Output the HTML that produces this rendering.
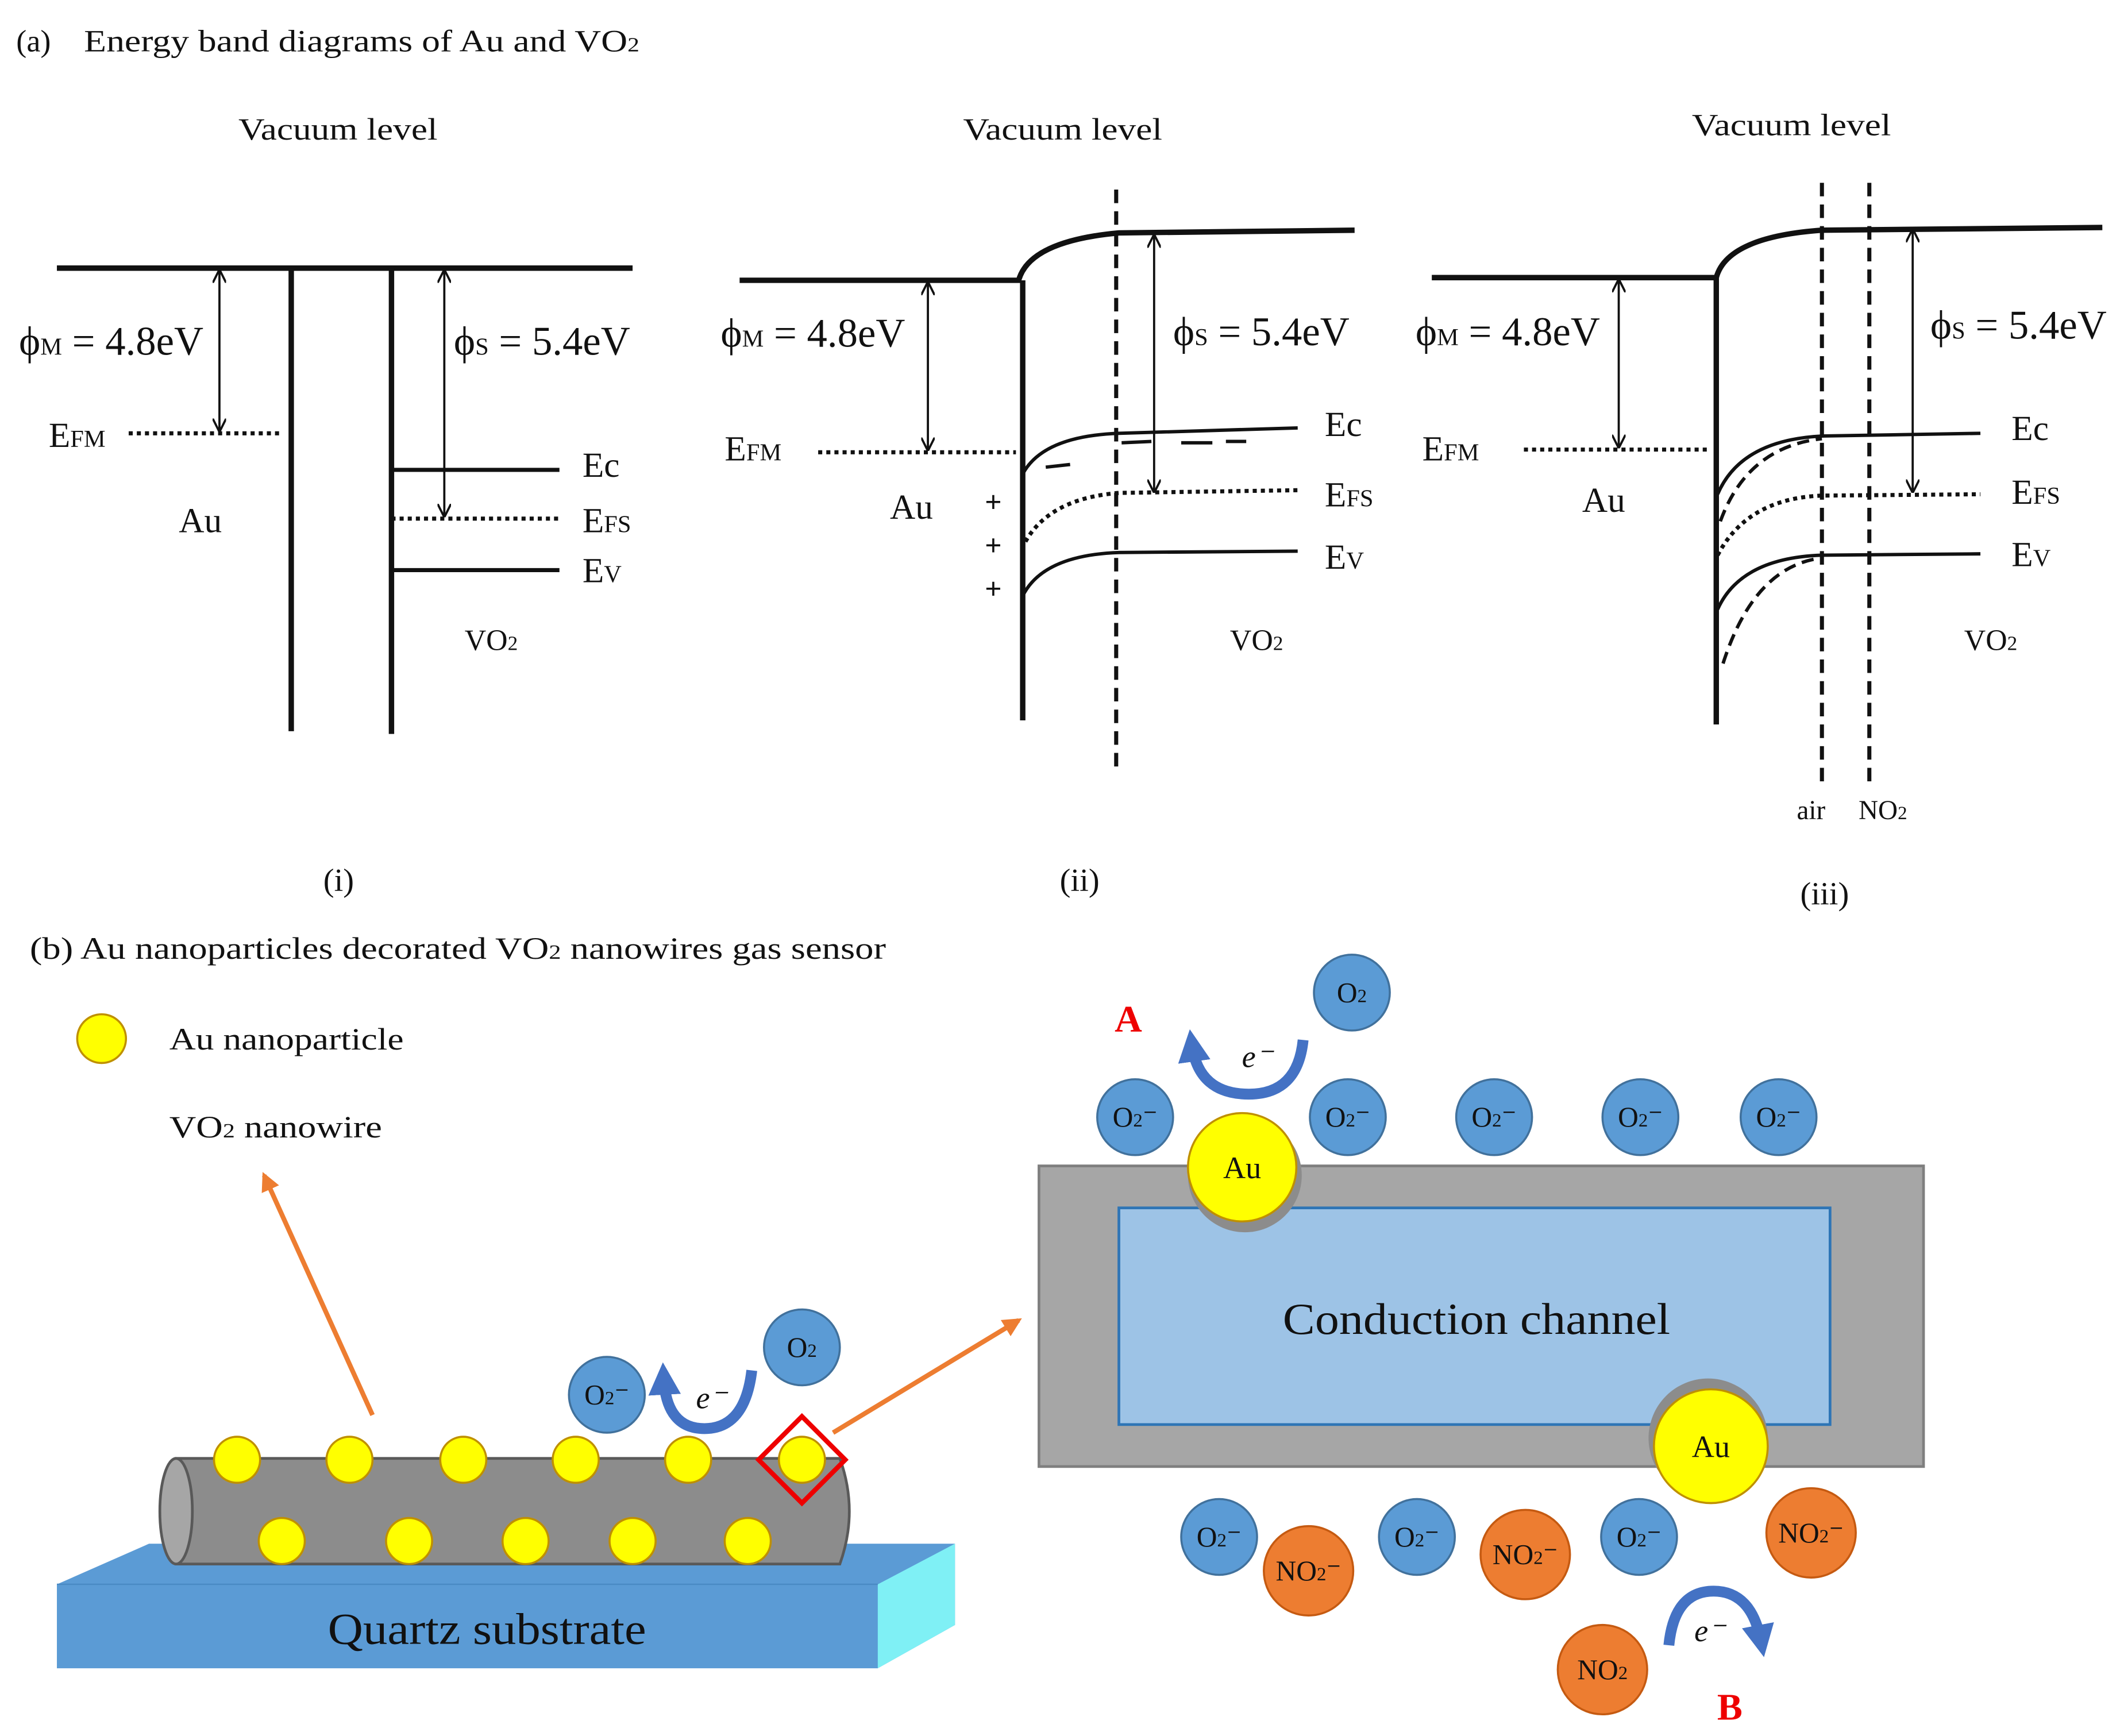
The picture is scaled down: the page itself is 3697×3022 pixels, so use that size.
<!DOCTYPE html>
<html><head><meta charset="utf-8"><style>
html,body{margin:0;padding:0;background:#fff}
svg{display:block}
text{font-family:"Liberation Serif",serif;fill:#111}
</style></head><body>
<svg width="3697" height="3022" viewBox="0 0 1568 1282" preserveAspectRatio="none" xmlns="http://www.w3.org/2000/svg">
<defs>
<marker id="ah" viewBox="0 0 10 10" refX="9" refY="5" markerWidth="10" markerHeight="10" markerUnits="userSpaceOnUse" orient="auto-start-reverse"><path d="M0,0 L10,5 L0,10" fill="none" stroke="#111" stroke-width="1.6"/></marker>
<marker id="oh" viewBox="0 0 10 10" refX="8" refY="5" markerWidth="4" markerHeight="4" orient="auto"><path d="M0,0 L10,5 L0,10z" fill="#ed7d31"/></marker>
<marker id="bh" viewBox="0 0 10 10" refX="5" refY="5" markerWidth="3" markerHeight="3" orient="auto"><path d="M0,0 L10,5 L0,10z" fill="#4472c4"/></marker>
</defs>
<rect width="1568" height="1282" fill="#fff"/>
<text x="12" y="38" font-size="23">(a)</text>
<text x="62" y="38" font-size="23" textLength="410" lengthAdjust="spacingAndGlyphs">Energy band diagrams of Au and VO<tspan font-size="15">2</tspan></text>

<!-- Panel i -->
<g stroke="#111" fill="none">
<line x1="42" y1="198" x2="467" y2="198" stroke-width="4"/>
<line x1="215" y1="198" x2="215" y2="540" stroke-width="4"/>
<line x1="289" y1="198" x2="289" y2="542" stroke-width="4"/>
<line x1="162" y1="200" x2="162" y2="318" stroke-width="1.6" marker-start="url(#ah)" marker-end="url(#ah)"/>
<line x1="328" y1="200" x2="328" y2="381" stroke-width="1.6" marker-start="url(#ah)" marker-end="url(#ah)"/>
<line x1="95" y1="320" x2="208" y2="320" stroke-width="3" stroke-dasharray="3,3"/>
<line x1="289" y1="347" x2="413" y2="347" stroke-width="3"/>
<line x1="289" y1="383" x2="413" y2="383" stroke-width="3" stroke-dasharray="3,3"/>
<line x1="289" y1="421" x2="413" y2="421" stroke-width="3"/>
</g>
<text x="176" y="103" font-size="23" textLength="147" lengthAdjust="spacingAndGlyphs">Vacuum level</text>
<text x="14" y="262" font-size="30">ϕ<tspan font-size="18">M</tspan> = 4.8eV</text>
<text x="335" y="262" font-size="30">ϕ<tspan font-size="18">S</tspan> = 5.4eV</text>
<text x="36" y="330" font-size="26">E<tspan font-size="18">FM</tspan></text>
<text x="132" y="393" font-size="26">Au</text>
<text x="430" y="352" font-size="26">Ec</text>
<text x="430" y="393" font-size="26">E<tspan font-size="18">FS</tspan></text>
<text x="430" y="430" font-size="26">E<tspan font-size="18">V</tspan></text>
<text x="343" y="480" font-size="22">VO<tspan font-size="15">2</tspan></text>
<text x="250" y="658" font-size="24" text-anchor="middle">(i)</text>

<!-- Panel ii -->
<g stroke="#111" fill="none">
<path d="M546,207 L752,207 Q760,178 826,172 L1000,170" stroke-width="4"/>
<line x1="755" y1="207" x2="755" y2="532" stroke-width="4"/>
<line x1="824" y1="140" x2="824" y2="570" stroke-width="3" stroke-dasharray="10,6"/>
<line x1="685" y1="209" x2="685" y2="332" stroke-width="1.6" marker-start="url(#ah)" marker-end="url(#ah)"/>
<line x1="852" y1="174" x2="852" y2="363" stroke-width="1.6" marker-start="url(#ah)" marker-end="url(#ah)"/>
<line x1="604" y1="334" x2="750" y2="334" stroke-width="3" stroke-dasharray="3,3"/>
<path d="M755,350 Q770,322 826,320 L958,316" stroke-width="2.5"/>
<path d="M772,345 L790,343 M828,327 L850,326 M872,327 L895,327 M905,326 L920,326" stroke-width="2.5"/>
<path d="M757,400 Q775,368 826,364 L958,362" stroke-width="3" stroke-dasharray="3,3"/>
<path d="M755,440 Q770,410 826,408 L958,407" stroke-width="2.5"/>
</g>
<text x="711" y="103" font-size="23" textLength="147" lengthAdjust="spacingAndGlyphs">Vacuum level</text>
<text x="532" y="256" font-size="30">ϕ<tspan font-size="18">M</tspan> = 4.8eV</text>
<text x="866" y="255" font-size="30">ϕ<tspan font-size="18">S</tspan> = 5.4eV</text>
<text x="535" y="340" font-size="26">E<tspan font-size="18">FM</tspan></text>
<text x="657" y="383" font-size="26">Au</text>
<text x="727" y="378" font-size="22" font-weight="bold">+</text>
<text x="727" y="410" font-size="22" font-weight="bold">+</text>
<text x="727" y="442" font-size="22" font-weight="bold">+</text>
<text x="978" y="322" font-size="26">Ec</text>
<text x="978" y="374" font-size="26">E<tspan font-size="18">FS</tspan></text>
<text x="978" y="420" font-size="26">E<tspan font-size="18">V</tspan></text>
<text x="908" y="480" font-size="22">VO<tspan font-size="15">2</tspan></text>
<text x="797" y="658" font-size="24" text-anchor="middle">(ii)</text>

<!-- Panel iii -->
<g stroke="#111" fill="none">
<path d="M1057,205 L1267,205 Q1275,175 1345,170 L1552,168" stroke-width="4"/>
<line x1="1267" y1="205" x2="1267" y2="535" stroke-width="4"/>
<line x1="1345" y1="135" x2="1345" y2="580" stroke-width="3" stroke-dasharray="10,6"/>
<line x1="1380" y1="135" x2="1380" y2="580" stroke-width="3" stroke-dasharray="10,6"/>
<line x1="1195" y1="207" x2="1195" y2="330" stroke-width="1.6" marker-start="url(#ah)" marker-end="url(#ah)"/>
<line x1="1412" y1="170" x2="1412" y2="363" stroke-width="1.6" marker-start="url(#ah)" marker-end="url(#ah)"/>
<line x1="1125" y1="332" x2="1262" y2="332" stroke-width="3" stroke-dasharray="3,3"/>
<path d="M1268,365 Q1285,325 1345,322 L1462,320" stroke-width="2.5"/>
<path d="M1270,385 Q1290,330 1345,324" stroke-width="2.5" stroke-dasharray="9,5"/>
<path d="M1268,410 Q1290,368 1345,366 L1462,365" stroke-width="3" stroke-dasharray="3,3"/>
<path d="M1268,450 Q1285,412 1345,410 L1462,409" stroke-width="2.5"/>
<path d="M1272,490 Q1295,418 1345,412" stroke-width="2.5" stroke-dasharray="9,5"/>
</g>
<text x="1249" y="100" font-size="23" textLength="147" lengthAdjust="spacingAndGlyphs">Vacuum level</text>
<text x="1045" y="255" font-size="30">ϕ<tspan font-size="18">M</tspan> = 4.8eV</text>
<text x="1425" y="250" font-size="30">ϕ<tspan font-size="18">S</tspan> = 5.4eV</text>
<text x="1050" y="340" font-size="26">E<tspan font-size="18">FM</tspan></text>
<text x="1168" y="378" font-size="26">Au</text>
<text x="1485" y="325" font-size="26">Ec</text>
<text x="1485" y="372" font-size="26">E<tspan font-size="18">FS</tspan></text>
<text x="1485" y="418" font-size="26">E<tspan font-size="18">V</tspan></text>
<text x="1450" y="480" font-size="22">VO<tspan font-size="15">2</tspan></text>
<text x="1337" y="605" font-size="20" text-anchor="middle">air</text>
<text x="1390" y="605" font-size="20" text-anchor="middle">NO<tspan font-size="14">2</tspan></text>
<text x="1347" y="668" font-size="24" text-anchor="middle">(iii)</text>

<!-- Part b -->
<text x="22" y="708" font-size="23" textLength="632" lengthAdjust="spacingAndGlyphs">(b) Au nanoparticles decorated VO<tspan font-size="15">2</tspan>  nanowires gas sensor</text>
<circle cx="75" cy="767" r="18" fill="#ffff00" stroke="#bf9000" stroke-width="1.5"/>
<text x="125" y="775" font-size="23" textLength="173" lengthAdjust="spacingAndGlyphs">Au nanoparticle</text>
<text x="125" y="840" font-size="23" textLength="157" lengthAdjust="spacingAndGlyphs">VO<tspan font-size="15">2</tspan> nanowire</text>
<line x1="275" y1="1045" x2="195" y2="868" stroke="#ed7d31" stroke-width="3.5" marker-end="url(#oh)"/>

<polygon points="42,1170 110,1140 705,1140 705,1200 648,1232 42,1232" fill="#5b9bd5"/>
<polygon points="648,1170 705,1140 705,1200 648,1232" fill="#7ff0f5"/>
<line x1="42" y1="1170" x2="648" y2="1170" stroke="#4a8ac4" stroke-width="1"/>
<text x="242" y="1214" font-size="33" textLength="235" lengthAdjust="spacingAndGlyphs">Quartz substrate</text>

<path d="M130,1077 L620,1077 Q634,1116 620,1155 L130,1155 Z" fill="#8c8c8c" stroke="#595959" stroke-width="2"/>
<ellipse cx="130" cy="1116" rx="12" ry="39" fill="#a6a6a6" stroke="#595959" stroke-width="2"/>
<g fill="#ffff00" stroke="#bf9000" stroke-width="1.5">
<circle cx="175" cy="1078" r="17"/><circle cx="258" cy="1078" r="17"/><circle cx="342" cy="1078" r="17"/><circle cx="425" cy="1078" r="17"/><circle cx="508" cy="1078" r="17"/><circle cx="592" cy="1078" r="17"/>
<circle cx="208" cy="1138" r="17"/><circle cx="302" cy="1138" r="17"/><circle cx="388" cy="1138" r="17"/><circle cx="467" cy="1138" r="17"/><circle cx="552" cy="1138" r="17"/>
</g>
<polygon points="592,1046 624,1078 592,1110 560,1078" fill="none" stroke="#e00" stroke-width="3.5"/>
<line x1="615" y1="1058" x2="752" y2="975" stroke="#ed7d31" stroke-width="3.5" marker-end="url(#oh)"/>

<g stroke="#41719c" stroke-width="1.5" fill="#5b9bd5">
<circle cx="448" cy="1030" r="28"/><circle cx="592" cy="995" r="28"/>
<circle cx="998" cy="733" r="28"/>
<circle cx="838" cy="825" r="28"/><circle cx="995" cy="825" r="28"/><circle cx="1103" cy="825" r="28"/><circle cx="1211" cy="825" r="28"/><circle cx="1313" cy="825" r="28"/>
<circle cx="900" cy="1135" r="28"/><circle cx="1046" cy="1135" r="28"/><circle cx="1210" cy="1135" r="28"/>
</g>
<g font-size="21" text-anchor="middle">
<text x="448" y="1037">O<tspan font-size="14">2</tspan>⁻</text>
<text x="592" y="1002">O<tspan font-size="14">2</tspan></text>
<text x="998" y="740">O<tspan font-size="14">2</tspan></text>
<text x="838" y="832">O<tspan font-size="14">2</tspan>⁻</text>
<text x="995" y="832">O<tspan font-size="14">2</tspan>⁻</text>
<text x="1103" y="832">O<tspan font-size="14">2</tspan>⁻</text>
<text x="1211" y="832">O<tspan font-size="14">2</tspan>⁻</text>
<text x="1313" y="832">O<tspan font-size="14">2</tspan>⁻</text>
<text x="900" y="1142">O<tspan font-size="14">2</tspan>⁻</text>
<text x="1046" y="1142">O<tspan font-size="14">2</tspan>⁻</text>
<text x="1210" y="1142">O<tspan font-size="14">2</tspan>⁻</text>
</g>

<!-- e- arrows -->
<path d="M555,1012 Q550,1055 520,1055 Q492,1055 490,1018" fill="none" stroke="#4472c4" stroke-width="8" marker-end="url(#bh)"/>
<text x="525" y="1040" font-size="23" font-style="italic" text-anchor="middle">e⁻</text>
<path d="M962,768 Q958,808 922,808 Q885,808 880,772" fill="none" stroke="#4472c4" stroke-width="8" marker-end="url(#bh)"/>
<text x="928" y="788" font-size="23" font-style="italic" text-anchor="middle">e⁻</text>
<path d="M1232,1215 Q1236,1175 1265,1175 Q1293,1175 1300,1212" fill="none" stroke="#4472c4" stroke-width="8" marker-end="url(#bh)"/>
<text x="1262" y="1212" font-size="23" font-style="italic" text-anchor="middle">e⁻</text>
<text x="833" y="762" font-size="28" font-weight="bold" text-anchor="middle" style="fill:#e00">A</text>
<text x="1277" y="1270" font-size="28" font-weight="bold" text-anchor="middle" style="fill:#e00">B</text>

<!-- right box -->
<rect x="767" y="861" width="653" height="222" fill="#a6a6a6" stroke="#7f7f7f" stroke-width="2"/>
<rect x="826" y="892" width="525" height="160" fill="#9dc3e6" stroke="#2e75b6" stroke-width="2"/>
<text x="947" y="985" font-size="33" textLength="286" lengthAdjust="spacingAndGlyphs">Conduction channel</text>
<circle cx="919" cy="868" r="42" fill="#8c8c8c"/>
<circle cx="917" cy="862" r="40" fill="#ffff00" stroke="#bf9000" stroke-width="1.5"/>
<text x="917" y="870" font-size="23" text-anchor="middle">Au</text>
<circle cx="1261" cy="1062" r="44" fill="#8c8c8c"/>
<circle cx="1263" cy="1068" r="42" fill="#ffff00" stroke="#bf9000" stroke-width="1.5"/>
<text x="1263" y="1076" font-size="23" text-anchor="middle">Au</text>

<g fill="#ed7d31" stroke="#c55a11" stroke-width="1.5">
<circle cx="966" cy="1160" r="33"/><circle cx="1126" cy="1148" r="33"/><circle cx="1337" cy="1132" r="33"/><circle cx="1183" cy="1233" r="33"/>
</g>
<g font-size="21" text-anchor="middle">
<text x="966" y="1167">NO<tspan font-size="14">2</tspan>⁻</text>
<text x="1126" y="1155">NO<tspan font-size="14">2</tspan>⁻</text>
<text x="1337" y="1139">NO<tspan font-size="14">2</tspan>⁻</text>
<text x="1183" y="1240">NO<tspan font-size="14">2</tspan></text>
</g>
</svg>
</body></html>
